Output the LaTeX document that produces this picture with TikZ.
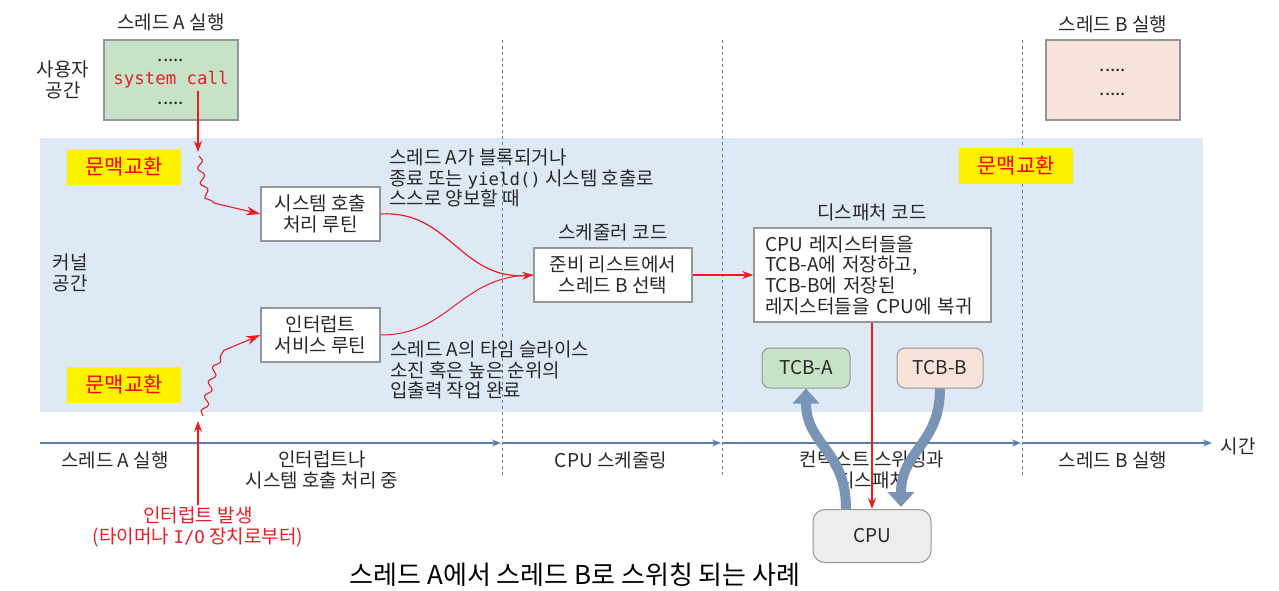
\documentclass[tikz,border=0pt]{standalone}
\usepackage{fontspec}
\setmainfont{Noto Sans CJK KR}
\newfontfamily\monof{DejaVu Sans Mono}
\usetikzlibrary{arrows.meta,decorations.pathmorphing}
\definecolor{kbg}{RGB}{222,233,246}
\definecolor{gbox}{RGB}{199,227,199}
\definecolor{pbox}{RGB}{248,227,219}
\definecolor{bgray}{RGB}{150,150,150}
\definecolor{tline}{RGB}{88,126,170}
\definecolor{fatc}{RGB}{122,148,182}
\definecolor{cpuf}{RGB}{236,237,236}
\definecolor{rd}{RGB}{235,28,36}
\definecolor{txt}{RGB}{40,40,40}
\begin{document}
\begin{tikzpicture}[x=1pt,y=-1pt,
  every node/.style={font=\fontsize{19}{20.7}\selectfont, inner sep=0pt, text=txt},
  box/.style={draw=bgray, line width=1.5pt, fill=white, align=center},
  rbox/.style={draw=bgray, line width=1pt, rounded corners=8pt, align=center},
  ctx/.style={fill=yellow, text=red, minimum width=114pt, minimum height=36pt, font=\fontsize{21}{24}\selectfont},
  dline/.style={tline, dashed, line width=0.8pt},
  tl/.style={tline, line width=1.2pt, -{Stealth[length=9pt,width=7pt]}},
  redarr/.style={rd, line width=1.2pt, -{Stealth[length=11pt,width=8pt]}},
  wave/.style={rd, line width=1.1pt, decorate, decoration={snake, amplitude=3pt, segment length=15pt, post length=#1}},
  fat/.style={fatc, line width=10pt, -{Triangle[width=26pt,length=15pt]}},
  lab/.style={align=center},
  labl/.style={align=left, anchor=west},
  mono/.style={font=\monof\fontsize{17.4}{20}\selectfont}]
\useasboundingbox (0,0) rectangle (1279,591);
% kernel background
\fill[kbg] (40,138) rectangle (1203,412);
% dashed lines
\foreach \x in {502,722,1022} \draw[dline] (\x,40) -- (\x,476);
% user space boxes
\node[draw=bgray, line width=1.5pt, fill=gbox, minimum width=134pt, minimum height=80pt] (ua) at (171,80) {};
\node at (171,60) {.....};
\node[text=rd, mono] (sc) at (171,80) {system call};
\node at (171,103) {.....};
\node (uat) at (171,22) {스레드 A 실행};
\node[draw=bgray, line width=1.5pt, fill=pbox, minimum width=134pt, minimum height=80pt] (ub) at (1113,80) {};
\node at (1113,70) {.....};
\node at (1113,94) {.....};
\node (ubt) at (1113,24) {스레드 B 실행};
\node[lab] (us) at (63,80) {사용자\\공간};
\node[lab] (ks) at (70,273) {커널\\공간};
% context switch labels
\node[ctx] (c1) at (124,167) {문맥교환};
\node[ctx] (c2) at (124,385) {문맥교환};
\node[ctx] (c3) at (1016,166) {문맥교환};
% kernel boxes
\node[box, minimum width=119pt, minimum height=54pt] (sys) at (320.5,214) {시스템 호출\\처리 루틴};
\node[box, minimum width=119pt, minimum height=54pt] (isr) at (320.5,335) {인터럽트\\서비스 루틴};
\node[box, minimum width=158pt, minimum height=54pt] (sch) at (613,275) {준비 리스트에서\\스레드 B 선택};
\node (scht) at (613,232) {스케줄러 코드};
\node[box, minimum width=237pt, minimum height=94pt, align=left, text width=215pt] (dsp) at (872.5,275) {CPU 레지스터들을\\TCB-A에 저장하고,\\TCB-B에 저장된\\레지스터들을 CPU에 복귀};
\node (dspt) at (872,212) {디스패처 코드};
\node[labl] (t1) at (389,178) {스레드 A가 블록되거나\\종료 또는 {\monof\fontsize{17.4}{20.7}\selectfont yield()} 시스템 호출로\\스스로 양보할 때};
\node[labl] (t2) at (390,370) {스레드 A의 타임 슬라이스\\소진 혹은 높은 순위의\\입출력 작업 완료};
% TCB and CPU
\node[rbox, fill=gbox, minimum width=88pt, minimum height=40pt] (tcba) at (806,368) {TCB-A};
\node[rbox, fill=pbox, minimum width=86pt, minimum height=40pt] (tcbb) at (940,368) {TCB-B};
\node[rbox, fill=cpuf, minimum width=118pt, minimum height=53pt, rounded corners=12pt] (cpu) at (872,536) {CPU};
% timeline
\coordinate (t0) at (40,443);
\coordinate (ta) at (502,443);
\coordinate (tb) at (722,443);
\coordinate (tc) at (1022,443);
\coordinate (te) at (1212,443);
\draw[tl, shorten >=1pt] (t0) -- (ta);
\draw[tl, shorten >=1pt] (ta) -- (tb);
\draw[tl, shorten >=1pt] (tb) -- (tc);
\draw[tl] (tc) -- (te);
\node (time) at (1238,446) {시간};
\node (l1) at (115,460) {스레드 A 실행};
\node[lab] (l2) at (322,470) {인터럽트나\\시스템 호출 처리 중};
\node (l3) at (611,460) {CPU 스케줄링};
\node[lab] (l4) at (872,470) {컨텍스트 스위칭과\\디스패치};
\node (l5) at (1113,460) {스레드 B 실행};
% thick arrows
\draw[fat] ([xshift=-26pt]cpu.north) .. controls (846,450) and (806,445) .. (tcba.south);
\draw[fat] (tcbb.south) .. controls (940,445) and (901,450) .. ([xshift=29pt,yshift=2pt]cpu.north);
% red arrows
\coordinate (w1) at (198,152);
\draw[redarr] (sc.south -| w1) ++(0,2) -- (w1);
\draw[wave=48pt, -{Stealth[length=14pt,width=9pt]}] (199,156) .. controls (205,205) and (212,212) .. (sys.west);
\draw[redarr] (sys.east) .. controls (450,210) and (460,280) .. (sch.west);
\draw[rd, line width=1pt] (isr.east) .. controls (450,335) and (460,275) .. (sch.west);
\draw[redarr] (sch.east) -- (dsp.west);
\draw[redarr] (dsp.south -| cpu.north) -- (cpu.north);
\node[lab, text=rd] (irq) at (198,527) {인터럽트 발생\\(타이머나 {\monof\fontsize{17.4}{20.7}\selectfont I/O} 장치로부터)};
\coordinate (w2) at (198,421);
\draw[redarr] (irq.north -| w2) ++(0,-2) -- (w2);
\draw[wave=42pt, -{Stealth[length=14pt,width=9pt]}] (203,416) .. controls (218,350) and (225,333) .. (isr.west);
% caption
\node[font=\fontsize{26}{30}\selectfont, text=black] (cap) at (575,575) {스레드 A에서 스레드 B로 스위칭 되는 사례};
\end{tikzpicture}
\end{document}
